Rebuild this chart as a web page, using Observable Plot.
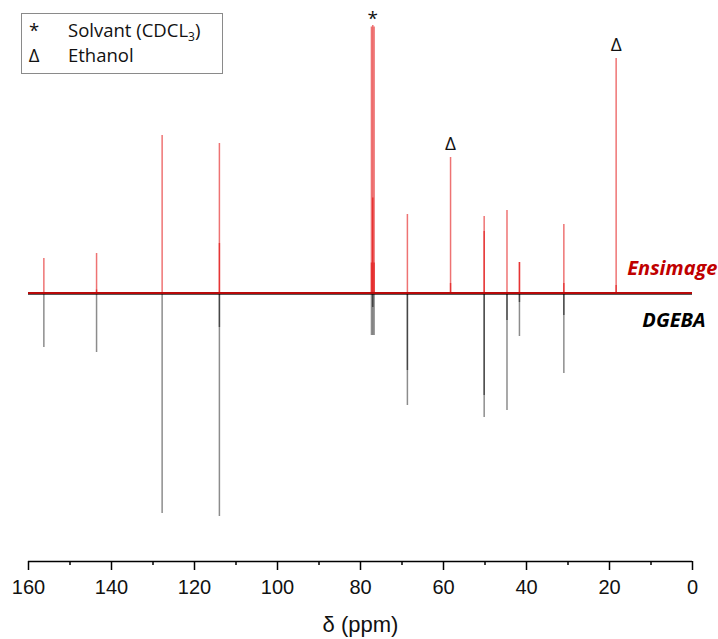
<!DOCTYPE html>
<html><head><meta charset="utf-8">
<script src="https://cdn.jsdelivr.net/npm/d3@7"></script>
<script src="https://cdn.jsdelivr.net/npm/@observablehq/plot@0.6"></script>
<style>
body{margin:0;background:#fff}
#wrap{position:relative;width:718px;height:639px}
#legend{position:absolute;left:21px;top:13px;width:200px;height:59px;border:1px solid #8a8a8a;background:#fff;font-family:"Open Sans",sans-serif;font-size:18.5px;color:#111;line-height:1}
#legend .row{position:absolute;left:0;width:200px;height:22px;white-space:nowrap}
#legend .s{position:absolute;width:24px;text-align:center;left:0}
#legend .t{position:absolute;left:46px}
</style>
</head><body>
<div id="wrap">
<div id="legend">
  <div class="row" style="top:7px"><span class="s">*</span><span class="t">Solvant (CDCL<sub style="font-size:12px;vertical-align:-4px">3</sub>)</span></div>
  <div class="row" style="top:32px"><span class="s">Δ</span><span class="t">Ethanol</span></div>
</div>
</div>
<script>
// chemical shifts (ppm)
const shifts        = [156.3, 143.6, 127.8, 114.0, 77.36, 77.04, 76.72, 68.7, 58.3, 50.2, 44.7, 41.7, 31.0, 18.4];
// Ensimage intensities (a.u., upward)
const ensimageMain  = [34.5, 39.5, 157.5, 149.5, 266, 267.5, 266, 78.5, 135.5, 76.5, 82.5, 30.5, 68.5, 234.5];
const ensimageInner = [0, 3, 0, 49.5, 30, 95, 30, 0, 9.5, 61.5, 0, 30.5, 9.5, 7.5];
// DGEBA intensities (a.u., drawn downward)
const dgebaMain     = [-54.5, -59.5, -220.5, -223.5, -42.5, -42.5, -42.5, -112.5, 0, -124.5, -117.5, -43.5, -80.5, 0];
const dgebaInner    = [0, 0, 0, -34.5, 0, -14.5, 0, -77.5, 0, -102.5, -27.5, -9.5, -22.5, 0];
// annotations
const starPeaks  = [{ppm: 77.04, h: 267.5, label: "*"}];
const deltaPeaks = [{ppm: 58.3, h: 135.5, label: "Δ"}, {ppm: 18.4, h: 234.5, label: "Δ"}];
const seriesLabels = [{name: "Ensimage", y: 24.5}, {name: "DGEBA", y: -27.5}];
const majorTicks = [0, 20, 40, 60, 80, 100, 120, 140, 160];
const minorTicks = [10, 30, 50, 70, 90, 110, 130, 150];
const yDomain = [-268.5, 292.5];

const rows = shifts.map((p, i) => ({ppm: p, em: ensimageMain[i], ei: ensimageInner[i], dm: dgebaMain[i], di: dgebaInner[i]}));
const red = "#e00000";

const chart = Plot.plot({
  width: 718, height: 639,
  marginLeft: 28, marginRight: 26, marginTop: 0, marginBottom: 78,
  x: {domain: [160, 0]},
  y: {domain: yDomain, axis: null},
  style: {fontFamily: "Liberation Sans, Arial, sans-serif", background: "#fff"},
  marks: [
    // DGEBA
    Plot.ruleY([-1], {x1: 160, x2: 0, stroke: "#222", strokeWidth: 1.5}),
    Plot.ruleX(rows.filter(d => d.dm !== 0), {x: "ppm", y1: 0, y2: "dm", stroke: "#000", strokeOpacity: 0.45, strokeWidth: 1.5}),
    Plot.ruleX(rows.filter(d => d.di !== 0), {x: "ppm", y1: 0, y2: "di", stroke: "#000", strokeOpacity: 0.5, strokeWidth: 1.5}),
    // Ensimage
    Plot.ruleX(rows, {x: "ppm", y1: 0, y2: "em", stroke: red, strokeOpacity: 0.55, strokeWidth: 1.5}),
    Plot.ruleX(rows.filter(d => d.ei !== 0), {x: "ppm", y1: 0, y2: "ei", stroke: red, strokeOpacity: 0.55, strokeWidth: 1.5}),
    Plot.ruleY([0], {x1: 160, x2: 0, stroke: "#b80a0a", strokeWidth: 2.2}),
    // annotations
    Plot.text(starPeaks, {x: "ppm", y: "h", text: "label", dy: -7, fontSize: 19, fill: "#111", fontFamily: "Open Sans, sans-serif"}),
    Plot.text(deltaPeaks, {x: "ppm", y: "h", text: "label", dy: -14, fontSize: 19, fill: "#111", fontFamily: "Open Sans, sans-serif"}),
    Plot.text(seriesLabels.slice(0, 1), {y: "y", text: "name", frameAnchor: "right", textAnchor: "end", dx: 25, fontSize: 20, fontWeight: "bold", fontStyle: "italic", fill: "#c00000", fontFamily: "Open Sans, sans-serif"}),
    Plot.text(seriesLabels.slice(1), {y: "y", text: "name", frameAnchor: "right", textAnchor: "end", dx: 13, fontSize: 20, fontWeight: "bold", fontStyle: "italic", fill: "#000", fontFamily: "Open Sans, sans-serif"}),
    // axis
    Plot.ruleY([yDomain[0]], {x1: 160, x2: 0, stroke: "#000", strokeWidth: 1.5}),
    Plot.axisX({ticks: majorTicks, tickSize: 9, tickPadding: 9, fontSize: 20, stroke: "#000", strokeWidth: 1.5, fill: "#111", label: null}),
    Plot.axisX({ticks: minorTicks, tickSize: 4, tickFormat: () => "", stroke: "#000", strokeWidth: 1.5, label: null}),
    Plot.text(["δ (ppm)"], {frameAnchor: "bottom", dy: 63, fontSize: 22, fill: "#111", lineAnchor: "middle"})
  ]
});
document.getElementById("wrap").prepend(chart);
</script>
</body></html>
